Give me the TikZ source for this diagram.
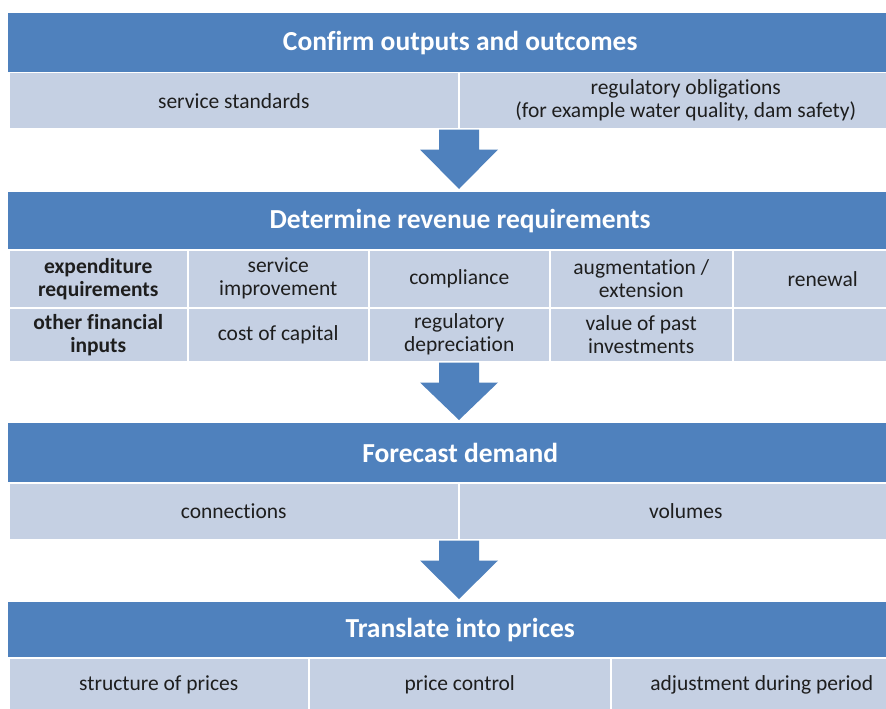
\documentclass[tikz,border=0pt]{standalone}
\usepackage{fontspec}
\setmainfont{Carlito}[Ligatures=NoCommon]
\usetikzlibrary{calc}
\definecolor{hdrblue}{RGB}{79,129,189}
\definecolor{cellblue}{RGB}{197,208,227}
\definecolor{celltext}{RGB}{30,30,30}
\tikzset{
  hdr/.style={rectangle, anchor=north west, inner sep=0pt, fill=hdrblue,
    text=white, font=\fontsize{27.5}{30}\selectfont\bfseries,
    minimum width=904pt},
  cell/.style={rectangle, anchor=north west, inner sep=0pt, fill=cellblue,
    draw=white, line width=1.5pt, text=celltext, align=center,
    font=\fontsize{21.5}{23}\selectfont},
  keycell/.style={cell, font=\fontsize{21.5}{23}\selectfont\bfseries},
  flowarrow/.style={fill=hdrblue, draw=none}
}
% block arrow pointing down from the bottom of one band to the next header
\newcommand{\flowdown}[2]{%
  \path[flowarrow] let \p1 = (#1), \p2 = (#2) in
    (439,\y1) -- (479,\y1) -- (479,\y1-20pt) -- (498,\y1-20pt)
    -- (459,\y2+3pt) -- (420,\y1-20pt) -- (439,\y1-20pt) -- cycle;}
\begin{document}
\begin{tikzpicture}[x=1pt,y=-1pt]
\useasboundingbox[fill=white] (0,0) rectangle (886,709);
\clip (0,0) rectangle (886,709);

% stage 1
\node[hdr, minimum height=59pt] (h1) at (8,13) {Confirm outputs and outcomes};
\node[cell, minimum width=450pt, minimum height=56pt] (c11) at (8,72) {service standards};
\node[cell, minimum width=454pt, minimum height=56pt] (c12) at (458,72)
  {regulatory obligations\\(for example water quality, dam safety)};

% stage 2
\node[hdr, minimum height=57pt] (h2) at (8,192) {Determine revenue requirements};
\node[keycell, minimum width=179pt, minimum height=58pt] (e0) at (8,249) {expenditure\\requirements};
\node[cell, minimum width=181pt, minimum height=58pt] (e1) at (187,249) {service\\improvement};
\node[cell, minimum width=181pt, minimum height=58pt] (e2) at (368,249) {compliance};
\node[cell, minimum width=183pt, minimum height=58pt] (e3) at (549,249) {augmentation /\\extension};
\node[cell, minimum width=180pt, minimum height=58pt] (e4) at (732,249) {renewal};
\node[keycell, minimum width=179pt, minimum height=54pt] (f0) at (8,307) {other financial\\inputs};
\node[cell, minimum width=181pt, minimum height=54pt] (f1) at (187,307) {cost of capital};
\node[cell, minimum width=181pt, minimum height=54pt] (f2) at (368,307) {regulatory\\depreciation};
\node[cell, minimum width=183pt, minimum height=54pt] (f3) at (549,307) {value of past\\investments};
\node[cell, minimum width=180pt, minimum height=54pt] (f4) at (732,307) {};

% stage 3
\node[hdr, minimum height=59pt] (h3) at (8,423) {Forecast demand};
\node[cell, minimum width=450pt, minimum height=57pt] (d1) at (8,482) {connections};
\node[cell, minimum width=454pt, minimum height=57pt] (d2) at (458,482) {volumes};

% stage 4
\node[hdr, minimum height=55pt] (h4) at (8,602) {Translate into prices};
\node[cell, minimum width=300pt, minimum height=55pt] (p1) at (8,657) {structure of prices};
\node[cell, minimum width=302pt, minimum height=55pt] (p2) at (308,657) {price control};
\node[cell, minimum width=302pt, minimum height=55pt] (p3) at (610,657) {adjustment during period};

% arrows between stages
\flowdown{c11.south}{h2.north}
\flowdown{f2.south}{h3.north}
\flowdown{d1.south}{h4.north}
\end{tikzpicture}
\end{document}
